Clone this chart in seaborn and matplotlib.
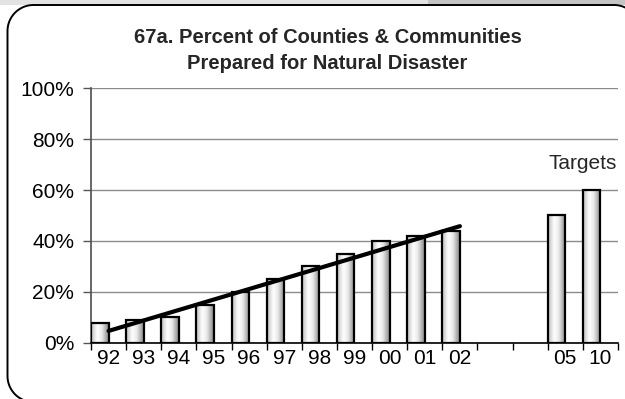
import numpy as np
import matplotlib
matplotlib.use('Agg')
import matplotlib.pyplot as plt
from matplotlib.colors import LinearSegmentedColormap
from matplotlib.patches import Rectangle
from matplotlib.lines import Line2D
import pandas as pd
import seaborn as sns

# data
years = ['92', '93', '94', '95', '96', '97', '98', '99', '00', '01', '02', '05', '10']
values = [8, 9, 10, 15, 20, 25, 30, 35, 40, 42, 44, 50, 60]
slots = ['92', '93', '94', '95', '96', '97', '98', '99', '00', '01', '02', ' ', '  ', '05', '10']
n_actual = 11

sns.set_theme(style='white')
plt.rcParams['font.family'] = ['Liberation Sans', 'DejaVu Sans']

df = pd.DataFrame({'year': years + years,
                   'value': values + [np.nan] * len(years),
                   'series': ['a'] * len(years) + ['b'] * len(years)})

fig = plt.figure(figsize=(6.25, 3.99), dpi=100)
ax = fig.add_axes([0.1456, 0.1404, 0.8432, 0.639])

sns.barplot(data=df, x='year', y='value', hue='series', order=slots,
            hue_order=['a', 'b'], width=1.0, dodge=True, legend=False,
            edgecolor='black', linewidth=1.6, color='white', ax=ax)

# cylinder-like shading on each bar
shade = LinearSegmentedColormap.from_list(
    'shade', [(0, '#bdbdbd'), (0.35, '#ffffff'), (0.6, '#ebebeb'), (1, '#858585')])
grad = np.linspace(0, 1, 64).reshape(1, -1)
for p in list(ax.patches):
    h = p.get_height()
    if not np.isfinite(h) or h <= 0:
        continue
    x0 = p.get_x()
    w = p.get_width()
    im = ax.imshow(grad, extent=[x0, x0 + w, 0, h], aspect='auto',
                   cmap=shade, zorder=2, interpolation='bicubic')
    im.set_clip_path(p)
    p.set_facecolor('none')
    p.set_zorder(3)

# trend line over the actual years
sns.regplot(x=np.arange(n_actual), y=values[:n_actual], scatter=False, ci=None,
            truncate=True, color='black', line_kws={'lw': 3, 'zorder': 4}, ax=ax)

ax.set_xlim(-0.5, len(slots) - 0.5)
ax.set_ylim(0, 100)
ax.set_yticks(range(0, 101, 20))
ax.set_yticklabels([f'{v}%' for v in range(0, 101, 20)])
ax.set_xticks(range(len(slots)))
ax.set_xticklabels(slots)
ax.set_xticks(np.arange(-0.5, len(slots), 1), minor=True)
ax.tick_params(axis='x', which='major', length=0, pad=4, labelsize=15, colors='black')
ax.tick_params(axis='x', which='minor', length=5, width=1, color='black', direction='out', bottom=True)
ax.tick_params(axis='y', length=6, width=1, color='#555555', direction='out', pad=6,
               labelsize=15, left=True, labelcolor='black')
ax.set_xlabel('')
ax.set_ylabel('')
ax.yaxis.grid(True, color='#8c8c8c', lw=1)
ax.set_axisbelow(True)
for s in ['top', 'right']:
    ax.spines[s].set_visible(False)
ax.spines['left'].set_color('#555555')
ax.spines['bottom'].set_color('black')
ax.spines['bottom'].set_linewidth(1.2)

ax.text(13.5, 70.5, 'Targets', ha='center', va='center', fontsize=15)

fig.text(0.524, 0.907, '67a. Percent of Counties & Communities', ha='center', va='center',
         fontsize=14.5, fontweight='bold')
fig.text(0.524, 0.840, 'Prepared for Natural Disaster', ha='center', va='center',
         fontsize=14.5, fontweight='bold')

# page strip at the top
fig.add_artist(Rectangle((0, 394), 625, 6, transform=None, facecolor='#e2e2e2', edgecolor='none'))
fig.add_artist(Rectangle((428, 394), 200, 6, transform=None, facecolor='#c4c4c4', edgecolor='none'))

# rounded frame, running off the right and bottom edges (open path in pixels)
L, R, T, B, r = 7.5, 640, 394, -3, 26
def arc(cx, cy, a0, a1):
    t = np.radians(np.linspace(a0, a1, 30))
    return cx + r * np.cos(t), cy + r * np.sin(t)
parts = [arc(L + r, B + r, 270, 180), arc(L + r, T - r, 180, 90), arc(R - r, T - r, 90, 0)]
fx = np.concatenate([p[0] for p in parts])
fy = np.concatenate([p[1] for p in parts])
fig.add_artist(Line2D(fx, fy, transform=None, color='black', lw=1.4))

fig.savefig('out.png', dpi=100)
